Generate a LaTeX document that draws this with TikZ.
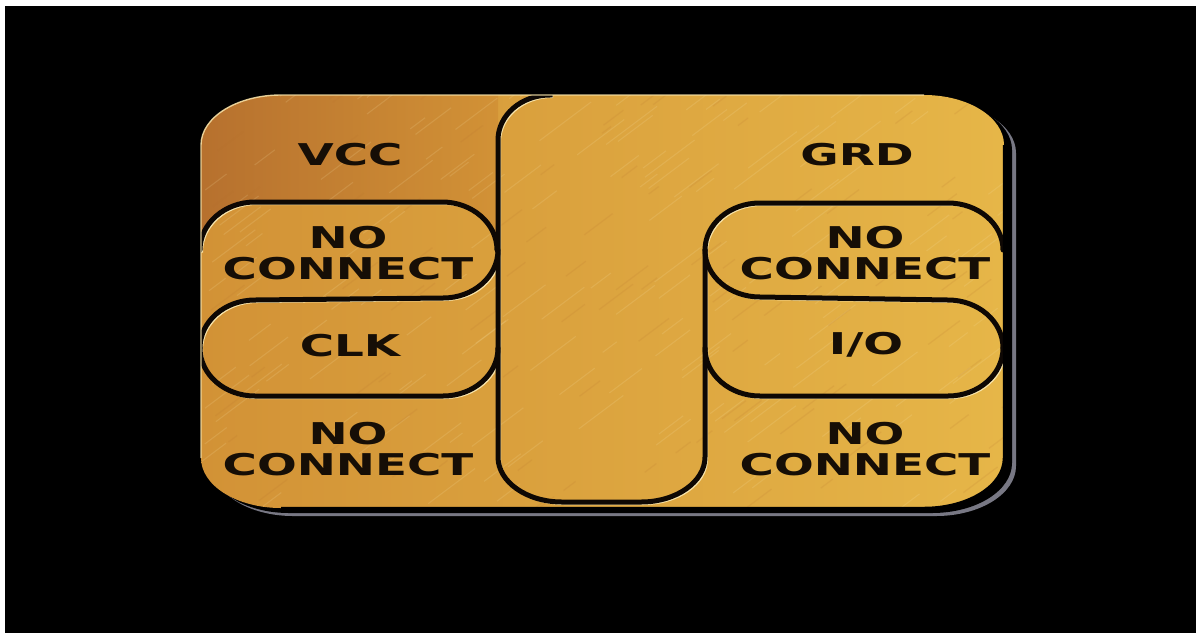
\documentclass[tikz,border=0pt]{standalone}
\usepackage{fontspec}
\newfontfamily\chipfont[FakeStretch=1.56]{DejaVu Sans}

\definecolor{chipL}{RGB}{210,146,54}
\definecolor{chipM}{RGB}{222,170,64}
\definecolor{chipR}{RGB}{230,182,72}
\definecolor{vccbrown}{RGB}{182,112,46}
\definecolor{rimgrey}{RGB}{120,120,132}
\definecolor{glintc}{RGB}{248,228,170}
\definecolor{inkc}{RGB}{22,14,6}
\definecolor{seamc}{RGB}{14,8,4}

% outline of the contact plate, px-like units, y pointing down
\def\chipoutline{(281,95) -- (924,95)
  arc[start angle=270,end angle=360,x radius=80,y radius=50] -- (1004,458)
  arc[start angle=0,end angle=90,x radius=80,y radius=50] -- (281,508)
  arc[start angle=90,end angle=180,x radius=80,y radius=50] -- (201,145)
  arc[start angle=180,end angle=270,x radius=80,y radius=50] -- cycle}

\tikzset{
  seam/.style={draw=seamc, line width=5, line cap=round},
  glint/.style={draw=glintc, line width=1.6, line cap=round, shift={(2.2,2.2)}},
  padlabel/.style={text=inkc, inner sep=0, align=center,
    font=\chipfont\bfseries\fontsize{30}{31}\selectfont},
}

\begin{document}
\begin{tikzpicture}[x=1pt,y=-1pt]
  \useasboundingbox (0,0) rectangle (1196,633);
  \fill[white] (0,0) rectangle (1196,633);
  \fill[black] (5,6) rectangle (1196,633);

  % rim and shadow of the plate
  \fill[rimgrey] [shift={(12,8)}] \chipoutline;
  \fill[black] [shift={(8,5)}] \chipoutline;

  % gold plate
  \shade[left color=chipL, middle color=chipM, right color=chipR] \chipoutline;

  \begin{scope}
    \clip \chipoutline;
    % darker VCC pad, above the first left pad
    \begin{scope}
      \clip (190,85) -- (498,85) -- (498,250)
        arc[start angle=360,end angle=270,x radius=55,y radius=48] -- (255,202)
        arc[start angle=270,end angle=180,x radius=55,y radius=48] -- cycle;
      \shade[left color=vccbrown, middle color=vccbrown!85!chipM, right color=chipL]
        (195,85) rectangle (500,255);
    \end{scope}
    % brushed scratches
    \pgfmathsetseed{11}
    \foreach \i in {1,...,160}{
      \pgfmathsetmacro\sx{200+810*rnd}
      \pgfmathsetmacro\sy{95+420*rnd}
      \pgfmathsetmacro\sl{15+50*rnd}
      \draw[glintc, opacity=0.16, line width=1.1]
        (\sx,\sy) -- ++(\sl*0.8,-\sl*0.6);
    }
    \foreach \i in {1,...,90}{
      \pgfmathsetmacro\sx{200+810*rnd}
      \pgfmathsetmacro\sy{95+420*rnd}
      \pgfmathsetmacro\sl{10+35*rnd}
      \draw[vccbrown, opacity=0.14, line width=1.3]
        (\sx,\sy) -- ++(\sl*0.8,-\sl*0.6);
    }

    % seams: central ground strip
    \def\strip{(550,80) -- (550,95)
      arc[start angle=270,end angle=180,x radius=52,y radius=45] -- (498,457)
      arc[start angle=180,end angle=90,x radius=64,y radius=45] -- (641,502)
      arc[start angle=90,end angle=0,x radius=64,y radius=45] -- (705,250)}
    % left column seams
    \def\lefttop{(200,250) arc[start angle=180,end angle=270,x radius=55,y radius=48]
      -- (442,202) arc[start angle=270,end angle=360,x radius=55,y radius=48]}
    \def\leftmid{(498,250) arc[start angle=0,end angle=90,x radius=55,y radius=48]
      -- (255,300) arc[start angle=270,end angle=180,x radius=55,y radius=48]}
    \def\leftlow{(498,348) arc[start angle=0,end angle=90,x radius=55,y radius=48]
      -- (255,396) arc[start angle=90,end angle=180,x radius=55,y radius=48]}
    % right column seams
    \def\righttop{(705,250) arc[start angle=180,end angle=270,x radius=55,y radius=47]
      -- (948,203) arc[start angle=270,end angle=360,x radius=55,y radius=47]}
    \def\rightmid{(705,250) arc[start angle=180,end angle=90,x radius=55,y radius=47]
      -- (948,300) arc[start angle=270,end angle=360,x radius=55,y radius=48]}
    \def\rightlow{(705,348) arc[start angle=180,end angle=90,x radius=55,y radius=48]
      -- (948,396) arc[start angle=90,end angle=0,x radius=55,y radius=48]}

    \foreach \p in {\strip,\lefttop,\leftmid,\leftlow,\righttop,\rightmid,\rightlow}{
      \draw[glint] \p;
    }
    \foreach \p in {\strip,\lefttop,\leftmid,\leftlow,\righttop,\rightmid,\rightlow}{
      \draw[seam] \p;
    }
  \end{scope}

  % light edge along the top and left of the plate
  \draw[glintc, line width=1.4, opacity=0.85]
    (201,458) -- (201,145)
    arc[start angle=180,end angle=270,x radius=80,y radius=50] -- (924,95);
  % dark edge along the right and bottom
  \draw[black, line width=2.5]
    (1004,145) -- (1004,458)
    arc[start angle=0,end angle=90,x radius=80,y radius=50] -- (281,508);

  % pad labels
  \node[padlabel] (vcc)  at (350,155) {VCC};
  \node[padlabel] (grd)  at (857,155) {GRD};
  \node[padlabel] (nc1)  at (348,253) {NO\\CONNECT};
  \node[padlabel] (clk)  at (350,346) {CLK};
  \node[padlabel] (nc2)  at (348,449) {NO\\CONNECT};
  \node[padlabel] (nc3)  at (865,253) {NO\\CONNECT};
  \node[padlabel] (io)   at (866,345) {I/O};
  \node[padlabel] (nc4)  at (865,449) {NO\\CONNECT};
\end{tikzpicture}
\end{document}
